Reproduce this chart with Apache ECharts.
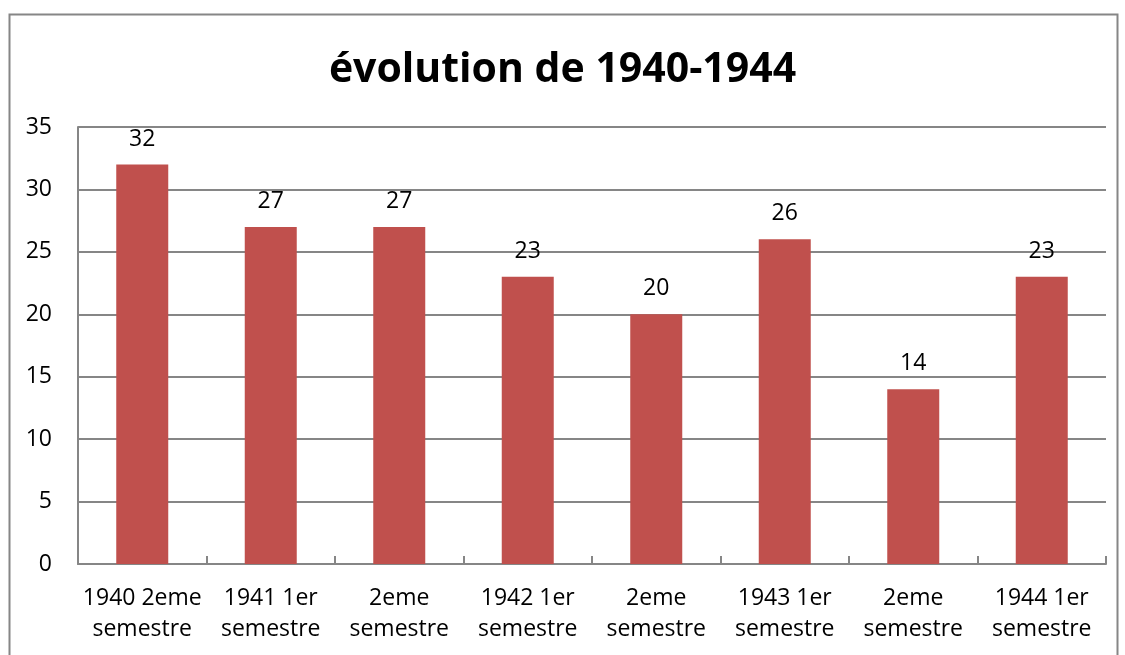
<!DOCTYPE html>
<html>
<head>
<meta charset="utf-8">
<script src="https://cdn.jsdelivr.net/npm/echarts@6/dist/echarts.min.js"></script>
<style>
html,body{margin:0;padding:0;background:#fff;}
#chart{width:1125px;height:655px;}
</style>
</head>
<body>
<div id="chart"></div>
<script>
const titleText = 'évolution de 1940-1944';
const categories = ['1940 2eme\nsemestre', '1941 1er\nsemestre', '2eme\nsemestre', '1942 1er\nsemestre', '2eme\nsemestre', '1943 1er\nsemestre', '2eme\nsemestre', '1944 1er\nsemestre'];
const values = [32, 27, 27, 23, 20, 26, 14, 23];
const yTicks = { min: 0, max: 35, interval: 5 };

const chart = echarts.init(document.getElementById('chart'), null, { renderer: 'canvas' });
const font = '"Open Sans", "Noto Sans", sans-serif';
chart.setOption({
  backgroundColor: '#ffffff',
  animation: false,
  title: {
    text: titleText,
    left: 'center',
    top: 45,
    textStyle: { fontFamily: font, fontSize: 41, fontWeight: 'bold', color: '#000' }
  },
  graphic: [{
    type: 'rect',
    shape: { x: 9.5, y: 14.5, width: 1108, height: 700 },
    style: { fill: 'none', stroke: '#868686', lineWidth: 2 },
    silent: true
  }],
  grid: { left: 78, right: 19, top: 127, bottom: 91, containLabel: false },
  xAxis: {
    type: 'category',
    data: categories,
    axisLine: { show: true, lineStyle: { color: '#868686', width: 2 } },
    axisTick: { show: true, inside: true, length: 8, alignWithLabel: false, lineStyle: { color: '#868686', width: 2 } },
    axisLabel: { fontFamily: font, fontSize: 23, color: '#000', margin: 19, lineHeight: 31, interval: 0 },
    splitLine: { show: false }
  },
  yAxis: {
    type: 'value',
    min: yTicks.min, max: yTicks.max, interval: yTicks.interval,
    axisLine: { show: true, lineStyle: { color: '#868686', width: 2 } },
    axisTick: { show: false },
    axisLabel: { fontFamily: font, fontSize: 23, color: '#000', margin: 26 },
    splitLine: { show: true, lineStyle: { color: '#868686', width: 2 } }
  },
  series: [{
    type: 'bar',
    data: values,
    barWidth: 52,
    itemStyle: { color: '#C0504D' },
    label: { show: true, position: 'top', distance: 14, fontFamily: font, fontSize: 23, color: '#000' }
  }]
});
</script>
</body>
</html>
